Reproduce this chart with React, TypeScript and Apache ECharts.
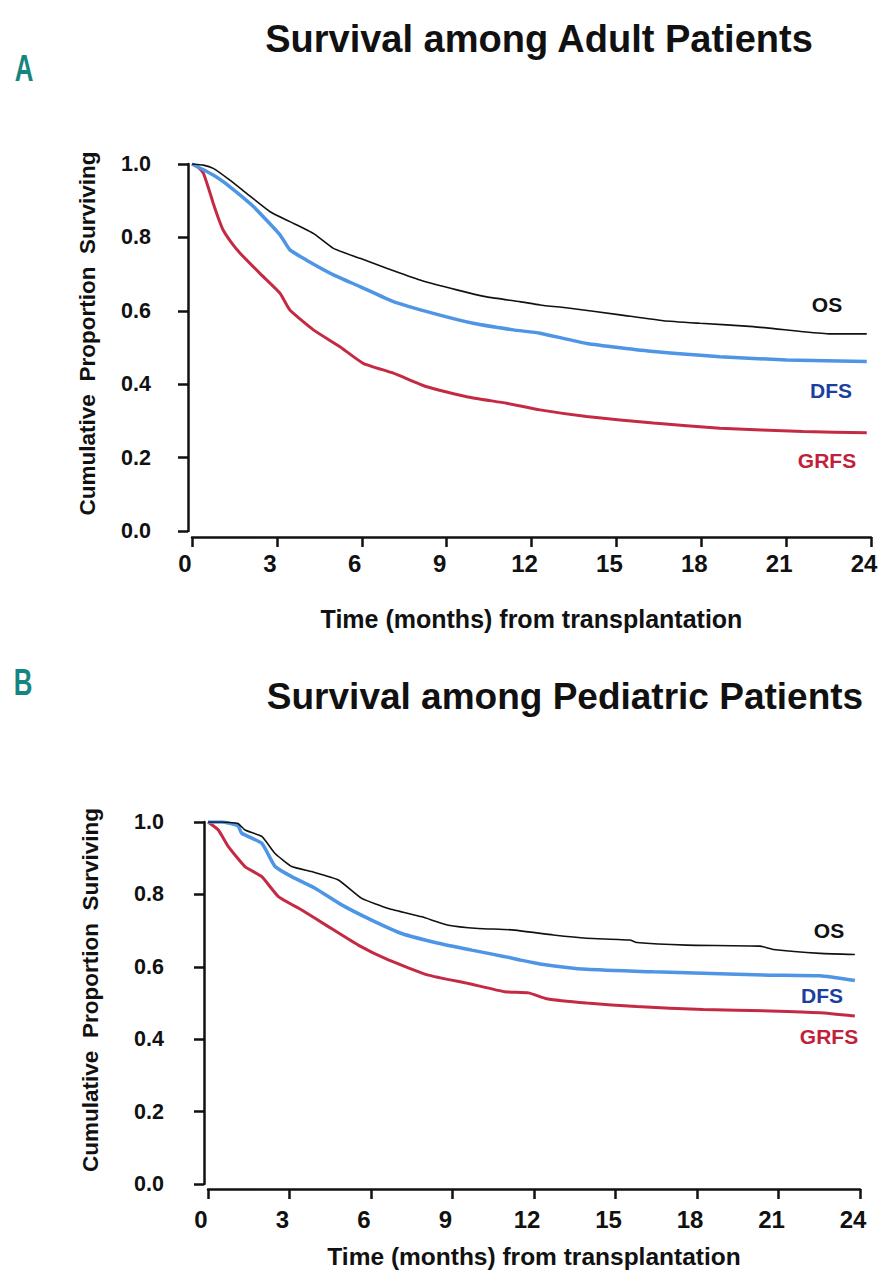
import React, { useEffect, useRef } from "react";
import * as echarts from "echarts";

const xTicks = [0, 3, 6, 9, 12, 15, 18, 21, 24];
const seriesNames = ["OS", "DFS", "GRFS"];

const adultOS = [[0,1],[0.4,0.997],[0.75,0.988],[1.34,0.956],[1.93,0.92],[2.76,0.87],[3.46,0.843],[4.29,0.811],[5.0,0.77],[5.94,0.743],[6.88,0.716],[8.06,0.684],[9.36,0.657],[10.42,0.638],[11.59,0.625],[12.3,0.616],[13.36,0.607],[15.13,0.589],[16.66,0.573],[17.96,0.566],[19.84,0.557],[21.6,0.543],[22.55,0.537],[23.85,0.537]];
const adultDFS = [[0,1],[0.75,0.97],[1.34,0.938],[2.17,0.884],[3.11,0.807],[3.46,0.766],[4.05,0.738],[5.0,0.698],[5.94,0.666],[7.12,0.625],[8.53,0.593],[9.94,0.566],[11.36,0.548],[12.3,0.539],[13.95,0.511],[16.31,0.489],[18.66,0.475],[21.02,0.466],[23.85,0.462]];
const adultGRFS = [[0,1],[0.2,0.992],[0.4,0.975],[0.58,0.935],[0.75,0.893],[0.92,0.855],[1.1,0.82],[1.4,0.785],[1.7,0.757],[2.4,0.702],[3.11,0.648],[3.46,0.602],[4.29,0.548],[5.23,0.502],[6.05,0.457],[7.12,0.43],[8.3,0.393],[9.71,0.366],[11.12,0.348],[12.3,0.33],[13.95,0.312],[16.31,0.294],[18.66,0.28],[21.6,0.271],[23.85,0.268]];

const pedOS = [[0,1],[0.5,1.0],[1.1,0.996],[1.36,0.978],[1.98,0.96],[2.47,0.913],[3.08,0.877],[3.82,0.863],[4.8,0.84],[5.66,0.789],[6.64,0.761],[7.87,0.738],[8.85,0.715],[9.95,0.706],[11.18,0.702],[12.71,0.688],[13.94,0.679],[15.53,0.674],[15.78,0.667],[17.62,0.66],[20.32,0.657],[20.81,0.648],[22.53,0.637],[23.81,0.634]];
const pedDFS = [[0,1],[0.5,1.0],[1.1,0.99],[1.24,0.969],[1.98,0.941],[2.47,0.877],[3.08,0.849],[3.94,0.817],[4.92,0.771],[6.02,0.729],[7.13,0.692],[8.48,0.665],[9.71,0.646],[10.93,0.628],[11.48,0.619],[12.22,0.608],[13.94,0.593],[16.39,0.586],[18.23,0.582],[20.69,0.577],[22.53,0.575],[23.81,0.562]];
const pedGRFS = [[0,1],[0.38,0.978],[0.75,0.932],[1.36,0.877],[1.98,0.849],[2.59,0.794],[3.45,0.757],[4.43,0.711],[5.53,0.66],[6.64,0.619],[8.11,0.577],[9.58,0.554],[10.93,0.531],[11.8,0.528],[12.47,0.512],[13.94,0.5],[15.78,0.49],[18.23,0.482],[20.69,0.478],[22.53,0.473],[23.81,0.464]];

const FONT = "'Liberation Sans', Arial, Helvetica, sans-serif";
const lineColors = ["#111111", "#4f95e6", "#c52a44"];
const lineWidths = [1.6, 3.5, 3];
const labelColors = ["#111111", "#1c3f9e", "#c21f3a"];

function xAxisCfg(gridIndex: number, nameGap: number, offset: number, margin: number, nameSize: number) {
  return {
    type: "value", gridIndex, min: 0, max: 24, interval: 3, offset,
    name: "Time (months) from transplantation", nameLocation: "middle", nameGap,
    nameTextStyle: { fontFamily: FONT, fontWeight: "bold", fontSize: nameSize, color: "#111" },
    axisLine: { show: true, onZero: false, lineStyle: { color: "#111", width: 2.5 } },
    axisTick: { show: true, length: 10, lineStyle: { color: "#111", width: 2.5 } },
    axisLabel: {
      fontFamily: FONT, fontWeight: "bold", fontSize: 24, color: "#111", margin,
      padding: [0, 14, 0, 0], showMinLabel: true, showMaxLabel: true,
      formatter: (v: number) => (xTicks.indexOf(v) >= 0 ? String(v) : ""),
    },
    splitLine: { show: false },
  };
}
function yAxisCfg(gridIndex: number, nameGap: number, margin: number, shift: number) {
  return {
    type: "value", gridIndex, min: 0, max: 1, interval: 0.2, offset: 4,
    name: "Cumulative  Proportion  Surviving", nameLocation: "middle", nameGap, nameRotate: 90,
    nameTextStyle: { fontFamily: FONT, fontWeight: "bold", fontSize: 22.5, color: "#111", padding: [0, 0, 0, shift] },
    axisLine: { show: true, onZero: false, lineStyle: { color: "#111", width: 2.5 } },
    axisTick: { show: true, length: 10, lineStyle: { color: "#111", width: 2.5 } },
    axisLabel: { fontFamily: FONT, fontWeight: "bold", fontSize: 21.5, color: "#111", margin, formatter: (v: number) => v.toFixed(1) },
    splitLine: { show: false },
  };
}
function lineSeries(name: string, idx: number, data: number[][], gi: number) {
  return {
    type: "line", name, data, xAxisIndex: gi, yAxisIndex: gi, showSymbol: false, symbol: "none",
    smooth: 0.15,
    lineStyle: { color: lineColors[idx], width: lineWidths[idx] }, z: 5 - idx,
  };
}
function label(text: string, idx: number, x: number, y: number) {
  return {
    type: "text", x, y,
    style: { text, fill: labelColors[idx], font: `bold 21px ${FONT}`, textAlign: "center", textVerticalAlign: "middle" },
  };
}

export default function App() {
  const ref = useRef<HTMLDivElement>(null);
  useEffect(() => {
    document.body.style.margin = "0";
    const chart = echarts.init(ref.current!, null, { renderer: "svg" });
    chart.setOption({
      animation: false,
      backgroundColor: "#ffffff",
      title: [
        { text: "Survival among Adult Patients", left: 534, top: 15, textAlign: "center", textStyle: { fontFamily: FONT, fontWeight: "bold", fontSize: 38, color: "#111" } },
        { text: "Survival among Pediatric Patients", left: 560, top: 673, textAlign: "center", textStyle: { fontFamily: FONT, fontWeight: "bold", fontSize: 37, color: "#111" } },
      ],
      graphic: [
        { type: "text", x: 24, y: 68, scaleX: 0.7, style: { text: "A", fill: "#17857f", font: `bold 37px ${FONT}`, textAlign: "center", textVerticalAlign: "middle" } },
        { type: "text", x: 23, y: 682, scaleX: 0.7, style: { text: "B", fill: "#17857f", font: `bold 37px ${FONT}`, textAlign: "center", textVerticalAlign: "middle" } },
        label(seriesNames[0], 0, 827, 304),
        label(seriesNames[1], 1, 831, 390),
        label(seriesNames[2], 2, 827, 460),
        label(seriesNames[0], 0, 829, 930),
        label(seriesNames[1], 1, 822, 995),
        label(seriesNames[2], 2, 829, 1036),
      ],
      grid: [
        { left: 192, right: 14, top: 164, height: 367 },
        { left: 208, right: 25, top: 822, height: 362 },
      ],
      xAxis: [xAxisCfg(0, 69, 6, 14, 25), xAxisCfg(1, 55, 5, 18, 24.5)],
      yAxis: [yAxisCfg(0, 89, 37, 28), yAxisCfg(1, 102, 40, 26)],
      series: [
        lineSeries(seriesNames[2], 2, adultGRFS, 0),
        lineSeries(seriesNames[1], 1, adultDFS, 0),
        lineSeries(seriesNames[0], 0, adultOS, 0),
        lineSeries(seriesNames[2], 2, pedGRFS, 1),
        lineSeries(seriesNames[1], 1, pedDFS, 1),
        lineSeries(seriesNames[0], 0, pedOS, 1),
      ],
    });
    return () => chart.dispose();
  }, []);
  return <div ref={ref} style={{ width: 885, height: 1280 }} />;
}
